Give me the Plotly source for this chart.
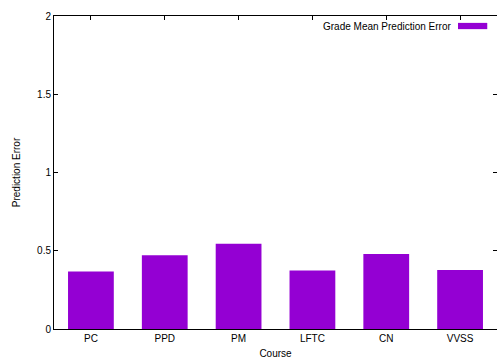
import plotly.graph_objects as go

# Mean prediction error of the grade model, per course
courses = ["PC", "PPD", "PM", "LFTC", "CN", "VVSS"]
mean_error = [0.368, 0.472, 0.544, 0.374, 0.479, 0.377]
series_name = "Grade Mean Prediction Error"
y_ticks = [0, 0.5, 1, 1.5, 2]
y_tick_text = ["0", "0.5", "1", "1.5", "2"]

BAR_COLOR = "#9400D3"
FONT = dict(family="Liberation Sans, Arial, sans-serif", size=10, color="#000000")

fig = go.Figure()
fig.add_trace(go.Bar(
    x=courses,
    y=mean_error,
    name=series_name,
    width=0.62,
    marker=dict(color=BAR_COLOR, line=dict(width=0)),
    showlegend=False,
))

# Key in the upper-right corner: label followed by a coloured swatch
fig.add_annotation(
    x=0.904, y=0.968, xref="paper", yref="paper",
    text=series_name, showarrow=False,
    xanchor="right", yanchor="middle", font=FONT,
)
fig.add_shape(
    type="rect", xref="paper", yref="paper",
    x0=0.912, x1=0.978, y0=0.958, y1=0.978,
    fillcolor=BAR_COLOR, line=dict(width=0),
)

fig.update_layout(
    width=497, height=359,
    margin=dict(l=54, r=0, t=16, b=30),
    paper_bgcolor="white", plot_bgcolor="white",
    font=FONT,
    xaxis=dict(
        title=dict(text="Course", standoff=6, font=FONT),
        range=[-0.5, 5.5],
        showline=True, linecolor="black", linewidth=1, mirror="ticks",
        ticks="inside", ticklen=4, tickcolor="black",
        showgrid=False, zeroline=False, layer="below traces",
    ),
    yaxis=dict(
        title=dict(text="Prediction Error", standoff=14, font=FONT),
        range=[0, 2],
        tickvals=y_ticks, ticktext=y_tick_text,
        showline=True, linecolor="black", linewidth=1, mirror="ticks",
        ticks="inside", ticklen=4, tickcolor="black",
        showgrid=False, zeroline=False,
    ),
)

fig.write_html("out.html")
